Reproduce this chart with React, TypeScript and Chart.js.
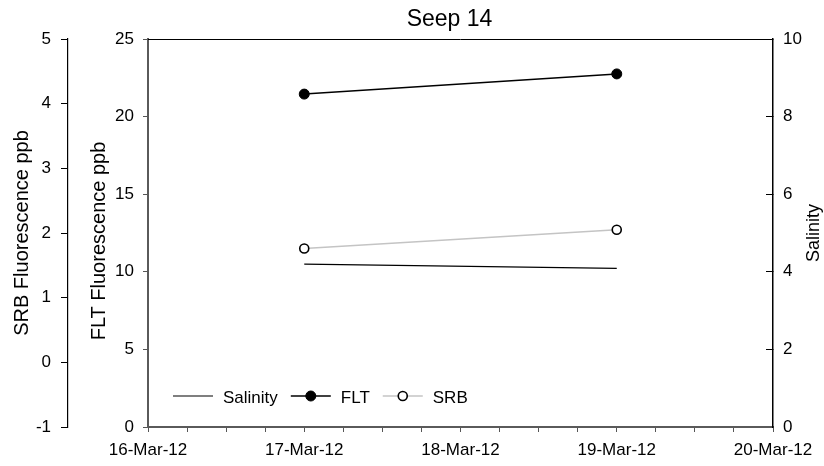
import { useEffect, useRef } from 'react';
import { Chart, registerables } from 'chart.js';

Chart.register(...registerables);

const FONT = "'Liberation Sans', Arial, Helvetica, sans-serif";

// ---- data ----
const chartTitle = 'Seep 14';
const xFirstDay = 16;
const xLastDay = 20;
const xTickLabels = ['16-Mar-12', '17-Mar-12', '18-Mar-12', '19-Mar-12', '20-Mar-12'];
const sampleDays = [17, 19];
const salinityValues = [4.2, 4.09];
const fltValues = [21.45, 22.75];
const srbValues = [1.76, 2.05];
const seriesNames = ['Salinity', 'FLT', 'SRB'];
const axisTitles = { srb: 'SRB Fluorescence ppb', flt: 'FLT Fluorescence ppb', sal: 'Salinity' };
const srbRange = [-1, 5];
const fltRange = [0, 25];
const salRange = [0, 10];

const toPoints = (vals: number[]) => vals.map((v, i) => ({ x: sampleDays[i], y: v }));

function drawVerticalText(ctx: CanvasRenderingContext2D, text: string, x: number, y: number, size: number) {
  ctx.save();
  ctx.font = `${size}px ${FONT}`;
  ctx.translate(x, y);
  ctx.rotate(-Math.PI / 2);
  ctx.textAlign = 'center';
  ctx.textBaseline = 'middle';
  ctx.fillStyle = '#000';
  ctx.fillText(text, 0, 0);
  ctx.restore();
}

const overlayPlugin = {
  id: 'overlay',
  afterDraw(chart: any) {
    const { ctx, chartArea } = chart;
    const { left, right, top, bottom } = chartArea;
    const midY = (top + bottom) / 2;
    ctx.save();
    // top frame line
    ctx.strokeStyle = '#000';
    ctx.lineWidth = 1;
    ctx.beginPath();
    ctx.moveTo(left, top + 0.5);
    ctx.lineTo(right, top + 0.5);
    ctx.stroke();

    // title
    ctx.fillStyle = '#000';
    ctx.font = `23px ${FONT}`;
    ctx.textAlign = 'center';
    ctx.textBaseline = 'alphabetic';
    ctx.fillText(chartTitle, (left + right) / 2 - 11, 26);

    // axis titles (all read bottom to top)
    drawVerticalText(ctx, axisTitles.srb, 22, midY, 20);
    drawVerticalText(ctx, axisTitles.flt, 99, midY + 8, 20);
    drawVerticalText(ctx, axisTitles.sal, chart.width - 10, midY, 18);

    // legend inside plot
    ctx.font = `17px ${FONT}`;
    ctx.textAlign = 'left';
    ctx.textBaseline = 'alphabetic';
    let x = left + 25;
    const ly = bottom - 31;
    chart.data.datasets.forEach((ds: any) => {
      const len = 40;
      ctx.strokeStyle = ds.borderColor;
      ctx.lineWidth = ds.borderWidth;
      ctx.beginPath();
      ctx.moveTo(x, ly);
      ctx.lineTo(x + len, ly);
      ctx.stroke();
      if (ds.pointRadius > 0) {
        ctx.beginPath();
        ctx.arc(x + len / 2, ly, ds.pointRadius, 0, Math.PI * 2);
        ctx.fillStyle = ds.pointBackgroundColor;
        ctx.fill();
        ctx.strokeStyle = ds.pointBorderColor;
        ctx.lineWidth = ds.pointBorderWidth;
        ctx.stroke();
      }
      ctx.fillStyle = '#000';
      const tx = x + len + 10;
      ctx.fillText(ds.label, tx, ly + 7);
      x = tx + ctx.measureText(ds.label).width + 13;
    });
    ctx.restore();
  },
};

export default function App() {
  const ref = useRef<HTMLCanvasElement>(null);

  useEffect(() => {
    if (!ref.current) return;
    Chart.defaults.font.family = FONT;
    Chart.defaults.font.size = 17;
    Chart.defaults.color = '#000';

    const chart = new Chart(ref.current, {
      type: 'line',
      data: {
        datasets: [
          {
            label: seriesNames[0],
            data: toPoints(salinityValues),
            yAxisID: 'ySal',
            borderColor: '#000',
            borderWidth: 1.2,
            pointRadius: 0,
            pointBackgroundColor: '#000',
            pointBorderColor: '#000',
            pointBorderWidth: 0,
          },
          {
            label: seriesNames[1],
            data: toPoints(fltValues),
            yAxisID: 'yFlt',
            borderColor: '#000',
            borderWidth: 1.5,
            pointRadius: 5,
            pointBackgroundColor: '#000',
            pointBorderColor: '#000',
            pointBorderWidth: 1,
          },
          {
            label: seriesNames[2],
            data: toPoints(srbValues),
            yAxisID: 'ySrb',
            borderColor: '#c4c4c4',
            borderWidth: 1.5,
            pointRadius: 4.5,
            pointBackgroundColor: '#fff',
            pointBorderColor: '#000',
            pointBorderWidth: 1.6,
          },
        ],
      },
      options: {
        animation: false,
        responsive: false,
        devicePixelRatio: 1,
        layout: { padding: { top: 39, left: 0, right: 0, bottom: 0 } },
        plugins: {
          legend: { display: false },
          title: { display: false },
          tooltip: { enabled: false },
        },
        scales: {
          x: {
            type: 'linear',
            position: 'bottom',
            min: xFirstDay,
            max: xLastDay,
            afterFit: (s: any) => { s.height = 39; },
            grid: { drawOnChartArea: false, drawTicks: true, tickLength: 5, tickColor: '#555', tickWidth: 1 },
            border: { display: true, color: '#5a5a5a', width: 2 },
            ticks: {
              stepSize: 0.25,
              autoSkip: false,
              maxRotation: 0,
              padding: 8,
              font: { size: 17 },
              callback: (v: any) => {
                const d = Number(v);
                if (Math.abs(d - Math.round(d)) > 1e-6) return '';
                return xTickLabels[Math.round(d) - xFirstDay] ?? '';
              },
            },
          },
          yFlt: {
            type: 'linear',
            position: 'left',
            weight: 0,
            min: fltRange[0],
            max: fltRange[1],
            afterFit: (s: any) => { s.width = 80; },
            grid: { drawOnChartArea: false, drawTicks: true, tickLength: 5, tickColor: '#555', tickWidth: 1 },
            border: { display: true, color: '#5a5a5a', width: 2 },
            ticks: { stepSize: 5, padding: 9, font: { size: 17 } },
          },
          ySrb: {
            type: 'linear',
            position: 'left',
            weight: 1,
            min: srbRange[0],
            max: srbRange[1],
            afterFit: (s: any) => { s.width = 68; },
            grid: { drawOnChartArea: false, drawTicks: true, tickLength: 7, tickColor: '#000', tickWidth: 1 },
            border: { display: true, color: '#000', width: 1.2 },
            ticks: { stepSize: 1, padding: 10, font: { size: 17 } },
          },
          ySal: {
            type: 'linear',
            position: 'right',
            min: salRange[0],
            max: salRange[1],
            afterFit: (s: any) => { s.width = 51; },
            grid: { drawOnChartArea: false, drawTicks: true, tickLength: -7, tickColor: '#000', tickWidth: 1 },
            border: { display: true, color: '#000', width: 1.5 },
            ticks: { stepSize: 2, padding: 17, font: { size: 17 } },
          },
        },
      } as any,
      plugins: [overlayPlugin],
    });
    return () => chart.destroy();
  }, []);

  return (
    <div style={{ position: 'absolute', left: 0, top: 0, width: 824, height: 466, background: '#fff' }}>
      <canvas ref={ref} width={824} height={466} style={{ display: 'block', width: 824, height: 466 }} />
    </div>
  );
}
